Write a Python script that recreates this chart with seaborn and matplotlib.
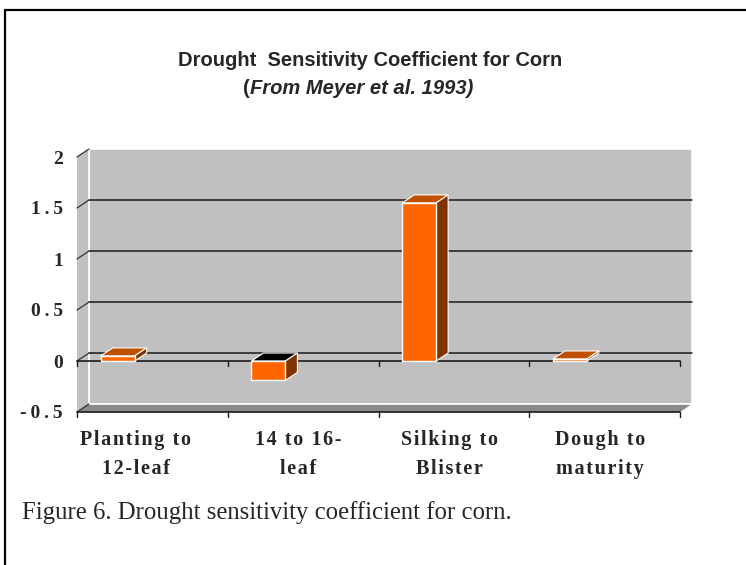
import numpy as np
import pandas as pd
import matplotlib
matplotlib.use("Agg")
import matplotlib.pyplot as plt
import matplotlib.transforms as mtransforms
from matplotlib.patches import Polygon
from matplotlib.lines import Line2D
import seaborn as sns

# data
stages = ["Planting to\n12-leaf", "14 to 16-\nleaf", "Silking to\nBlister", "Dough to\nmaturity"]
coefficients = [0.05, -0.19, 1.55, 0.02]
y_ticks = [-0.5, 0, 0.5, 1, 1.5, 2]
y_tick_labels = ["-0.5", "0", "0.5", "1", "1.5", "2"]
title_line = "Drought  Sensitivity Coefficient for Corn"
source_note = "From Meyer et al. 1993)"
caption = "Figure 6. Drought sensitivity coefficient for corn."

# colours (excel-like 3d bar chart)
bar_face = "#FF6600"
bar_top = "#C04F00"
bar_side = "#7F3300"
wall_gray = "#C0C0C0"
floor_gray = "#8A8A8A"

sns.set_style("white")
plt.rcParams["font.family"] = ["Liberation Serif", "DejaVu Serif"]


def spaced(s, gap):
    # wide letter spacing like the original
    return "\n".join(gap.join(line) for line in s.split("\n"))


W, H = 746, 565
fig = plt.figure(figsize=(W / 100, H / 100), dpi=100)
ax = fig.add_axes([77 / W, 153 / H, 603 / W, 255 / H])
ax.set_facecolor("none")

df = pd.DataFrame({"stage": stages, "coef": coefficients})
sns.barplot(data=df, x="stage", y="coef", color=bar_face, saturation=1,
            width=0.225, edgecolor="white", linewidth=1, ax=ax, zorder=5)

# bars sit left of the middle of each category slot (excel 3d look)
x_lo = -0.27
x_hi = x_lo + len(stages)
y_lo, y_hi = y_ticks[0], y_ticks[-1]
ax.set_xlim(x_lo, x_hi)
ax.set_ylim(y_lo, y_hi)

# depth of the fake 3d effect: 12 px right, 8 px up
inv = ax.transData.inverted()
ox, oy = ax.transData.transform((0, 0))
ddx, ddy = inv.transform((ox + 12, oy + 8))
tick_len = abs(inv.transform((ox, oy + 5))[1])


def poly(pts, **kw):
    p = Polygon(pts, closed=True, clip_on=False, **kw)
    ax.add_patch(p)


bars = list(ax.patches)

# back wall, left wall, floor
poly([(x_lo + ddx, y_lo + ddy), (x_hi + ddx, y_lo + ddy), (x_hi + ddx, y_hi + ddy), (x_lo + ddx, y_hi + ddy)],
     facecolor=wall_gray, edgecolor="white", lw=1.2, zorder=0)
poly([(x_lo, y_lo), (x_lo + ddx, y_lo + ddy), (x_lo + ddx, y_hi + ddy), (x_lo, y_hi)],
     facecolor=wall_gray, edgecolor="none", zorder=0.5)
poly([(x_lo, y_lo), (x_hi, y_lo), (x_hi + ddx, y_lo + ddy), (x_lo + ddx, y_lo + ddy)],
     facecolor=floor_gray, edgecolor="none", zorder=1)
ax.plot([x_lo + ddx, x_hi + ddx], [y_lo + ddy] * 2, color="white", lw=1.2, zorder=1.2, clip_on=False)
ax.plot([x_lo + ddx] * 2, [y_lo + ddy, y_hi + ddy], color="white", lw=1.2, zorder=1.2, clip_on=False)

# gridlines on the wall + diagonal ticks on the side wall
for t in y_ticks[1:-1]:
    ax.plot([x_lo + ddx, x_hi + ddx], [t + ddy] * 2, color="#1a1a1a", lw=1.1, zorder=1.5, clip_on=False)
for t in y_ticks:
    ax.plot([x_lo, x_lo + ddx], [t, t + ddy], color="#333333", lw=0.9, zorder=1.5, clip_on=False)

# front axis lines with category ticks
boundaries = np.arange(len(stages) + 1) + x_lo
for y0 in (0, y_lo):
    ax.plot([x_lo, x_hi], [y0, y0], color="#1a1a1a", lw=1.2, zorder=3, clip_on=False)
    for xb in boundaries:
        ax.plot([xb, xb], [y0, y0 - tick_len], color="#1a1a1a", lw=1, zorder=3, clip_on=False)

# top and side faces of each bar
for bar in bars:
    x0 = bar.get_x()
    x1 = x0 + bar.get_width()
    lo = min(bar.get_y(), bar.get_y() + bar.get_height())
    hi = max(bar.get_y(), bar.get_y() + bar.get_height())
    top_color = bar_top if bar.get_height() > 0 else "black"
    poly([(x0, hi), (x1, hi), (x1 + ddx, hi + ddy), (x0 + ddx, hi + ddy)],
         facecolor=top_color, edgecolor="white", lw=0.8, zorder=4)
    poly([(x1, lo), (x1 + ddx, lo + ddy), (x1 + ddx, hi + ddy), (x1, hi)],
         facecolor=bar_side, edgecolor="white", lw=0.8, zorder=4)

# category labels are centred in the slots
label_pos = boundaries[:-1] + 0.5 - 0.03
ax.set_xticks(label_pos, [spaced(s, "\u200a") for s in stages])
ax.set_yticks(y_ticks, [spaced(s, "\u2009") for s in y_tick_labels])
ax.tick_params(axis="x", length=0, pad=13, labelsize=14.5)
ax.tick_params(axis="y", length=0, pad=10, labelsize=14)
for lab in ax.get_xticklabels():
    lab.set_fontweight("bold")
    lab.set_linespacing(1.62)
for lab in ax.get_yticklabels():
    lab.set_fontweight("bold")
# the first label is nudged left in the original
first = ax.get_xticklabels()[0]
first.set_transform(first.get_transform() +
                    mtransforms.ScaledTranslation(-0.12, 0, fig.dpi_scale_trans))
ax.set_xlabel("")
ax.set_ylabel("")
sns.despine(ax=ax, left=True, bottom=True)
ax.grid(False)

# titles and caption
sans = ["Liberation Sans", "DejaVu Sans"]
fig.text(370 / W, 1 - 61 / H, title_line, ha="center", va="center",
         family=sans, weight="bold", size=14.5)
fig.text(250 / W, 1 - 88 / H, "(", ha="right", va="center",
         family=sans, weight="bold", size=14.5)
fig.text(250 / W, 1 - 88 / H, source_note, ha="left", va="center",
         family=sans, weight="bold", style="italic", size=14.5)
fig.text(22 / W, 1 - 513 / H, caption, ha="left", va="center",
         family=["Liberation Serif", "DejaVu Serif"], size=17.8)

# outer frame (only left and top edges are visible)
fig.add_artist(Line2D([5 / W, 5 / W], [0, 1 - 10 / H], color="black", lw=1.6))
fig.add_artist(Line2D([5 / W, 1], [1 - 10 / H, 1 - 10 / H], color="black", lw=1.6))

fig.savefig("out.png", dpi=100)
